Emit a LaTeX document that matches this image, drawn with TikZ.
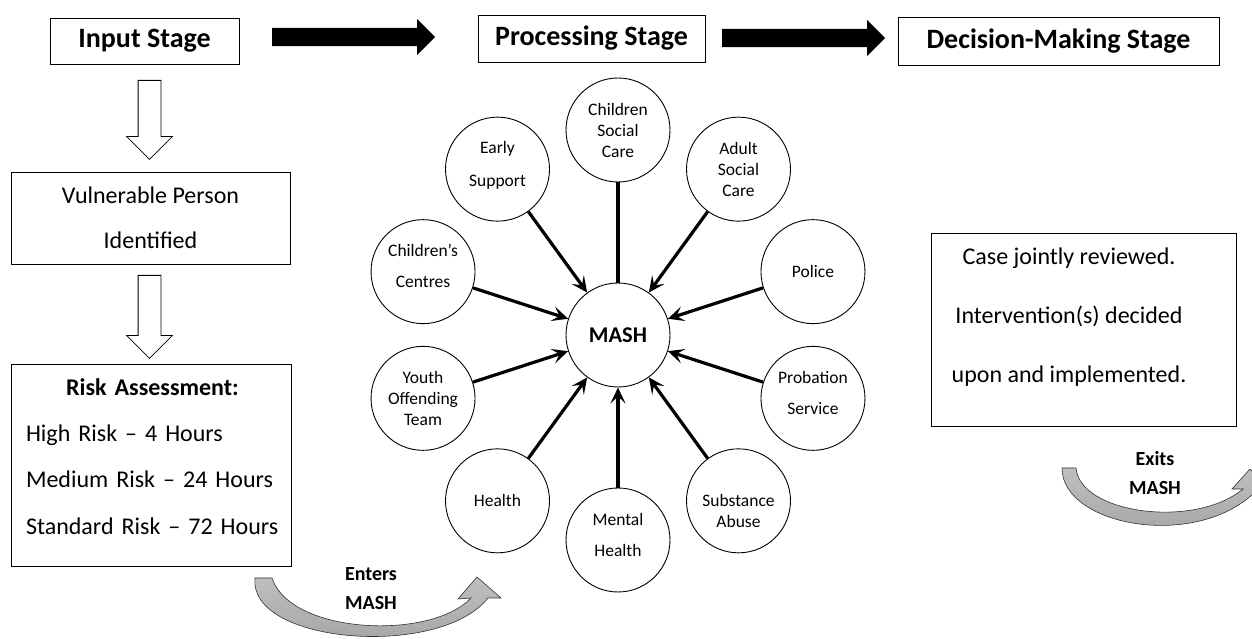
\documentclass[tikz,border=0pt]{standalone}
\usepackage{fontspec}
\setmainfont{Carlito}
\usetikzlibrary{arrows.meta,shapes.arrows}

\begin{document}
\begin{tikzpicture}[x=1pt,y=1pt,
    stage/.style={draw, line width=0.8pt, inner sep=0pt, font=\fontsize{28}{34}\selectfont\bfseries},
    box/.style={draw, line width=0.8pt, inner sep=0pt},
    body/.style={inner sep=0pt, font=\fontsize{24}{45}\selectfont},
    agency/.style={draw, circle, line width=0.9pt, minimum size=104pt, inner sep=0pt, align=center, font=\fontsize{17.5}{21}\selectfont},
    hub/.style={agency, font=\fontsize{22.5}{27}\selectfont\bfseries},
    flow/.style={single arrow, fill=black, inner sep=0pt, inner ysep=9pt, single arrow head extend=9pt, anchor=tail},
    down/.style={single arrow, draw, line width=0.8pt, inner sep=0pt, inner ysep=11pt, single arrow head extend=11.5pt, rotate=-90, anchor=tail},
    feed/.style={line width=3.2pt, -{Stealth[length=16pt,width=15pt,inset=7pt]}},
    swoop/.style={draw=black!80, line width=0.6pt, top color=gray!50, bottom color=gray!75},
    tag/.style={align=center, inner sep=0pt, font=\fontsize{20}{29}\selectfont\bfseries}]
  \useasboundingbox (0,0) rectangle (1252,639);
  \node[stage, minimum width=189pt, minimum height=46pt] (input) at (144.5,598) {Input Stage};
  \node[stage, minimum width=227pt, minimum height=47pt] (process) at (591.5,600.5) {Processing Stage};
  \node[stage, minimum width=321pt, minimum height=48pt] (decide) at (1058.5,598) {Decision-Making Stage};
  \node[flow, minimum height=163pt] (go1) at (272,602) {};
  \node[flow, minimum height=163pt] (go2) at (722,601) {};
  \node[down, minimum height=79pt] (step1) at (149.5,559) {};
  \node[box, body, align=center, minimum width=279pt, minimum height=92pt] (person) at (150.5,421) {Vulnerable Person\\Identified};
  \node[down, minimum height=83pt] (step2) at (149.5,364) {};
  \node[box, minimum width=280pt, minimum height=202pt] (risk) at (151,174) {};
  \node[body, text width=265pt, align=left, font=\fontsize{24}{46.3}\selectfont] (risklist) at (158.5,182.5)
    {\makebox[253pt]{\bfseries Risk Assessment:}\\High Risk – 4 Hours\\Medium Risk – 24 Hours\\Standard Risk – 72 Hours};
  \node[box, minimum width=305pt, minimum height=193pt] (case) at (1083.5,309.5) {};
  \node[body, align=center, font=\fontsize{24}{59}\selectfont] (outcome) at (1069,322)
    {Case jointly reviewed.\\Intervention(s) decided\\upon and implemented.};
  \begin{scope}[shift={(618,304)}]
    \draw
      (0:0) node[hub] (mash) {MASH}
      (90:205) node[agency] (csc) {Children\\Social\\Care}
      (54:205) node[agency] (asc) {Adult\\Social\\Care}
      (18:205) node[agency] (police) {Police}
      (-18:205) node[agency] (probation) {Probation\\[10pt]Service\\[-10pt]\mbox{}}
      (-54:205) node[agency] (substance) {\mbox{}\\[12pt]Substance\\Abuse}
      (-90:205) node[agency] (mental) {Mental\\[10pt]Health\\[-10pt]\mbox{}}
      (-126:205) node[agency] (health) {Health}
      (-162:205) node[agency] (yot) {Youth\\Offending\\Team}
      (162:205) node[agency] (centres) {Children’s\\[10pt]Centres\\[-10pt]\mbox{}}
      (126:205) node[agency] (early) {Early\\[12pt]Support\\[-10pt]\mbox{}};
  \end{scope}
  \begin{scope}[feed]
    \draw[-] (csc) to (mash);
    \draw (asc) to (mash);
    \draw (police) to (mash);
    \draw (probation) to (mash);
    \draw (substance) to (mash);
    \draw (mental) to (mash);
    \draw (health) to (mash);
    \draw (yot) to (mash);
    \draw (centres) to (mash);
    \draw (early) to (mash);
  \end{scope}
  \path[swoop] (255,61) .. controls (248,-5) and (440,-20) .. (488,41) -- (501,41) -- (477,62)
    -- (458,40) -- (471,41) .. controls (430,-2) and (290,5) .. (272,61) -- cycle;
  \node[tag] (enter) at (371,50) {Enters\\MASH};
  \path[swoop] (1062,171) .. controls (1062,112) and (1200,88) .. (1258,150) -- (1268,150) -- (1250,170)
    -- (1232,150) -- (1243,150) .. controls (1195,110) and (1080,125) .. (1076,171) -- cycle;
  \node[tag] (exit) at (1155,165.5) {Exits\\MASH};
\end{tikzpicture}
\end{document}
